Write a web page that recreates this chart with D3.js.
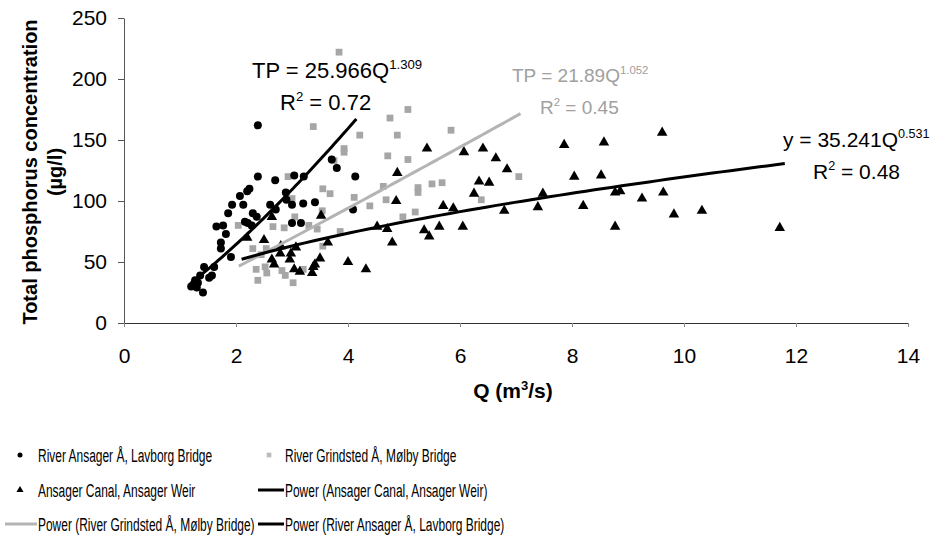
<!DOCTYPE html>
<html>
<head>
<meta charset="utf-8">
<script src="https://cdn.jsdelivr.net/npm/d3@7/dist/d3.min.js"></script>
<style>
  body { margin: 0; background: #fff; }
  svg { font-family: "Liberation Sans", Arial, sans-serif; display: block; }
</style>
</head>
<body>
<div id="chart"></div>
<script>
// River Ansager Å, Lavborg Bridge  [Q, TP]
const lavborg = [
  [2.39, 162], [2.39, 120], [2.70, 117], [3.04, 121], [2.24, 110], [2.20, 108],
  [2.07, 104], [1.93, 97], [2.13, 97], [1.86, 90], [2.30, 90], [2.37, 87],
  [2.61, 97], [2.71, 93], [2.90, 101], [3.00, 97], [1.65, 79], [1.77, 80],
  [1.82, 73], [2.16, 83], [2.21, 82], [2.28, 80], [3.00, 82], [1.73, 66],
  [1.73, 61], [1.91, 54], [1.61, 46], [1.43, 46], [1.57, 39], [1.36, 39],
  [1.27, 35], [1.23, 31], [1.32, 33], [1.41, 25], [1.52, 37], [1.20, 30],
  [3.71, 134], [3.80, 127], [4.13, 120], [3.21, 120], [2.89, 107], [3.20, 98],
  [3.41, 99], [4.09, 93], [3.16, 82], [1.30, 29]
];
// River Grindsted Å, Mølby Bridge
const molby = [
  [2.04, 80], [2.30, 61], [2.54, 61], [2.36, 44], [2.52, 46], [2.55, 41],
  [2.82, 43], [2.88, 39], [2.39, 35], [3.02, 33], [3.20, 44], [2.66, 79],
  [2.86, 78], [2.93, 120], [3.00, 102], [3.05, 87], [3.30, 80], [3.45, 77],
  [3.86, 75], [3.55, 63], [3.54, 92], [3.38, 161], [3.84, 222], [3.93, 143],
  [3.93, 140], [3.75, 133], [3.55, 110], [3.68, 106], [4.11, 103], [4.21, 154],
  [4.39, 96], [4.63, 112], [4.68, 101], [4.71, 137], [4.75, 168], [4.88, 154],
  [4.98, 87], [5.07, 175], [5.07, 134], [5.20, 91], [5.25, 111], [5.25, 107],
  [5.50, 114], [5.68, 115], [5.84, 158], [6.38, 101], [7.05, 120], [2.45, 56]
];
// Ansager Canal, Ansager Weir
const canal = [
  [2.20, 70], [2.50, 68], [2.64, 87], [2.64, 52], [2.68, 48], [2.80, 63],
  [2.79, 57], [2.98, 57], [3.07, 62], [2.96, 52], [3.04, 44], [3.14, 42],
  [3.38, 46], [3.36, 41], [3.41, 48], [3.50, 53], [3.52, 88], [3.64, 66],
  [4.00, 50], [4.32, 44], [4.52, 79], [4.70, 77], [4.79, 66], [4.88, 123],
  [4.86, 100], [5.36, 76], [5.45, 71], [5.41, 143], [5.63, 79], [5.70, 96],
  [5.88, 94], [6.05, 79], [6.07, 140], [6.25, 106], [6.34, 116], [6.41, 143],
  [6.52, 115], [6.64, 135], [6.79, 92], [6.84, 126], [7.39, 95], [7.48, 106],
  [7.86, 146], [8.04, 120], [8.20, 96], [8.52, 121], [8.57, 148], [8.77, 107],
  [8.86, 108], [8.77, 79], [9.25, 102], [9.61, 156], [9.63, 107], [9.82, 89],
  [10.32, 92], [11.71, 78]
];

// power fits: [coefficient, exponent, Q from, Q to]
const fitLavborg = [25.966, 1.309, 1.2, 4.15];
const fitMolby = [21.89, 1.052, 2.05, 7.08];
const fitCanal = [35.241, 0.531, 2.1, 11.8];

const xTicks = [0, 2, 4, 6, 8, 10, 12, 14];
const yTicks = [0, 50, 100, 150, 200, 250];

const legendLabels = [
  "River Ansager Å, Lavborg Bridge",
  "River Grindsted Å, Mølby Bridge",
  "Ansager Canal, Ansager Weir",
  "Power (Ansager Canal, Ansager Weir)",
  "Power (River Grindsted Å, Mølby Bridge)",
  "Power (River Ansager Å, Lavborg Bridge)"
];

const W = 941, H = 539;
const grey = "#a6a6a6";

const svg = d3.select("#chart").append("svg")
    .attr("width", W)
    .attr("height", H);

const x = d3.scaleLinear().domain([0, 14]).range([124, 908]);
const y = d3.scaleLinear().domain([0, 250]).range([323, 18]);

// axes
const yAxis = svg.append("g")
    .attr("transform", `translate(${x(0)},0)`)
    .call(d3.axisLeft(y).tickValues(yTicks).tickSize(6).tickSizeOuter(0).tickPadding(11));
yAxis.select(".domain").attr("stroke", "#555");
yAxis.selectAll(".tick line").attr("stroke", "#555");
yAxis.selectAll("text").attr("font-size", 21).attr("fill", "#000")
    .attr("font-family", "Liberation Sans, Arial, sans-serif");

const xAxis = svg.append("g")
    .attr("transform", `translate(0,${y(0)})`)
    .call(d3.axisBottom(x).tickValues(xTicks).tickSize(4).tickSizeOuter(0).tickPadding(21));
xAxis.select(".domain").attr("stroke", "#333");
xAxis.selectAll(".tick line").attr("stroke", "#888");
xAxis.selectAll("text").attr("font-size", 21).attr("fill", "#000")
    .attr("font-family", "Liberation Sans, Arial, sans-serif");

// axis titles
const xt = svg.append("text")
    .attr("x", 513).attr("y", 398)
    .attr("text-anchor", "middle")
    .attr("font-size", 21).attr("font-weight", "bold");
xt.append("tspan").text("Q (m");
xt.append("tspan").attr("font-size", 13).attr("dy", -8).text("3");
xt.append("tspan").attr("dy", 8).text("/s)");

svg.append("text")
    .attr("transform", "translate(37,172) rotate(-90)")
    .attr("text-anchor", "middle")
    .attr("font-size", 20).attr("font-weight", "bold")
    .text("Total phosphorus concentration");
svg.append("text")
    .attr("transform", "translate(62,172) rotate(-90)")
    .attr("text-anchor", "middle")
    .attr("font-size", 20).attr("font-weight", "bold")
    .text("(µg/l)");

// trend lines
let powerLine = (fit) => {
    let pts = d3.range(0, 61).map(i => {
        let q = fit[2] + (fit[3] - fit[2]) * i / 60;
        return [q, fit[0] * Math.pow(q, fit[1])];
    });
    return d3.line().x(d => x(d[0])).y(d => y(d[1]))(pts);
};

// points
svg.append("g").selectAll("path")
    .data(molby).enter().append("path")
    .attr("d", d3.symbol().type(d3.symbolSquare).size(46)())
    .attr("transform", d => `translate(${x(d[0])},${y(d[1])})`)
    .attr("fill", grey);

svg.append("g").selectAll("circle")
    .data(lavborg).enter().append("circle")
    .attr("cx", d => x(d[0]))
    .attr("cy", d => y(d[1]))
    .attr("r", 4)
    .attr("fill", "#000");

svg.append("g").selectAll("path")
    .data(canal).enter().append("path")
    .attr("d", d3.symbol().type(d3.symbolTriangle).size(48)())
    .attr("transform", d => `translate(${x(d[0])},${y(d[1])})`)
    .attr("fill", "#000");

svg.append("path").attr("d", powerLine(fitMolby))
    .attr("fill", "none").attr("stroke", "#b4b4b4").attr("stroke-width", 3);
svg.append("path").attr("d", powerLine(fitCanal))
    .attr("fill", "none").attr("stroke", "#000").attr("stroke-width", 3);
svg.append("path").attr("d", powerLine(fitLavborg))
    .attr("fill", "none").attr("stroke", "#000").attr("stroke-width", 3);

// equation labels
let equation = (px, py, lhs, fit, r2, size, color) => {
    let t = svg.append("text").attr("x", px).attr("y", py)
        .attr("font-size", size).attr("fill", color);
    t.append("tspan").text(`${lhs} = ${fit[0]}Q`);
    t.append("tspan").attr("font-size", size * 0.6).attr("dy", -size * 0.42).text(fit[1]);
    let r = svg.append("text").attr("x", px + (lhs == "y" ? 30 : 28)).attr("y", py + 32)
        .attr("font-size", size).attr("fill", color);
    r.append("tspan").text("R");
    r.append("tspan").attr("font-size", size * 0.6).attr("dy", -size * 0.42).text("2");
    r.append("tspan").attr("dy", size * 0.42).text(` = ${r2}`);
};
equation(252, 78, "TP", fitLavborg, "0.72", 22, "#000");
equation(512, 82, "TP", fitMolby, "0.45", 19, "#a0a0a0");
equation(783, 147, "y", fitCanal, "0.48", 21, "#000");

// legend
const legendPos = [
    [38, 455], [285, 455],
    [38, 490], [285, 490],
    [38, 524], [285, 524]
];
const lg = svg.append("g");
lg.selectAll("g.item")
    .data(legendLabels).enter().append("g")
    .attr("class", "item")
    .attr("transform", (d, i) => `translate(${legendPos[i][0]},${legendPos[i][1]}) scale(0.63,1)`)
    .append("text")
    .attr("dy", "0.36em")
    .attr("font-size", 19)
    .text(d => d);

lg.append("circle").attr("cx", 20).attr("cy", 455).attr("r", 2.5).attr("fill", "#000");
lg.append("path").attr("d", d3.symbol().type(d3.symbolSquare).size(22)())
    .attr("transform", "translate(269,455)").attr("fill", "#bbb");
lg.append("path").attr("d", d3.symbol().type(d3.symbolTriangle).size(22)())
    .attr("transform", "translate(20,490)").attr("fill", "#000");
lg.append("line").attr("x1", 258).attr("x2", 284).attr("y1", 490).attr("y2", 490)
    .attr("stroke", "#000").attr("stroke-width", 3);
lg.append("line").attr("x1", 5).attr("x2", 37).attr("y1", 524).attr("y2", 524)
    .attr("stroke", "#b4b4b4").attr("stroke-width", 3);
lg.append("line").attr("x1", 258).attr("x2", 284).attr("y1", 524).attr("y2", 524)
    .attr("stroke", "#000").attr("stroke-width", 3);
</script>
</body>
</html>
